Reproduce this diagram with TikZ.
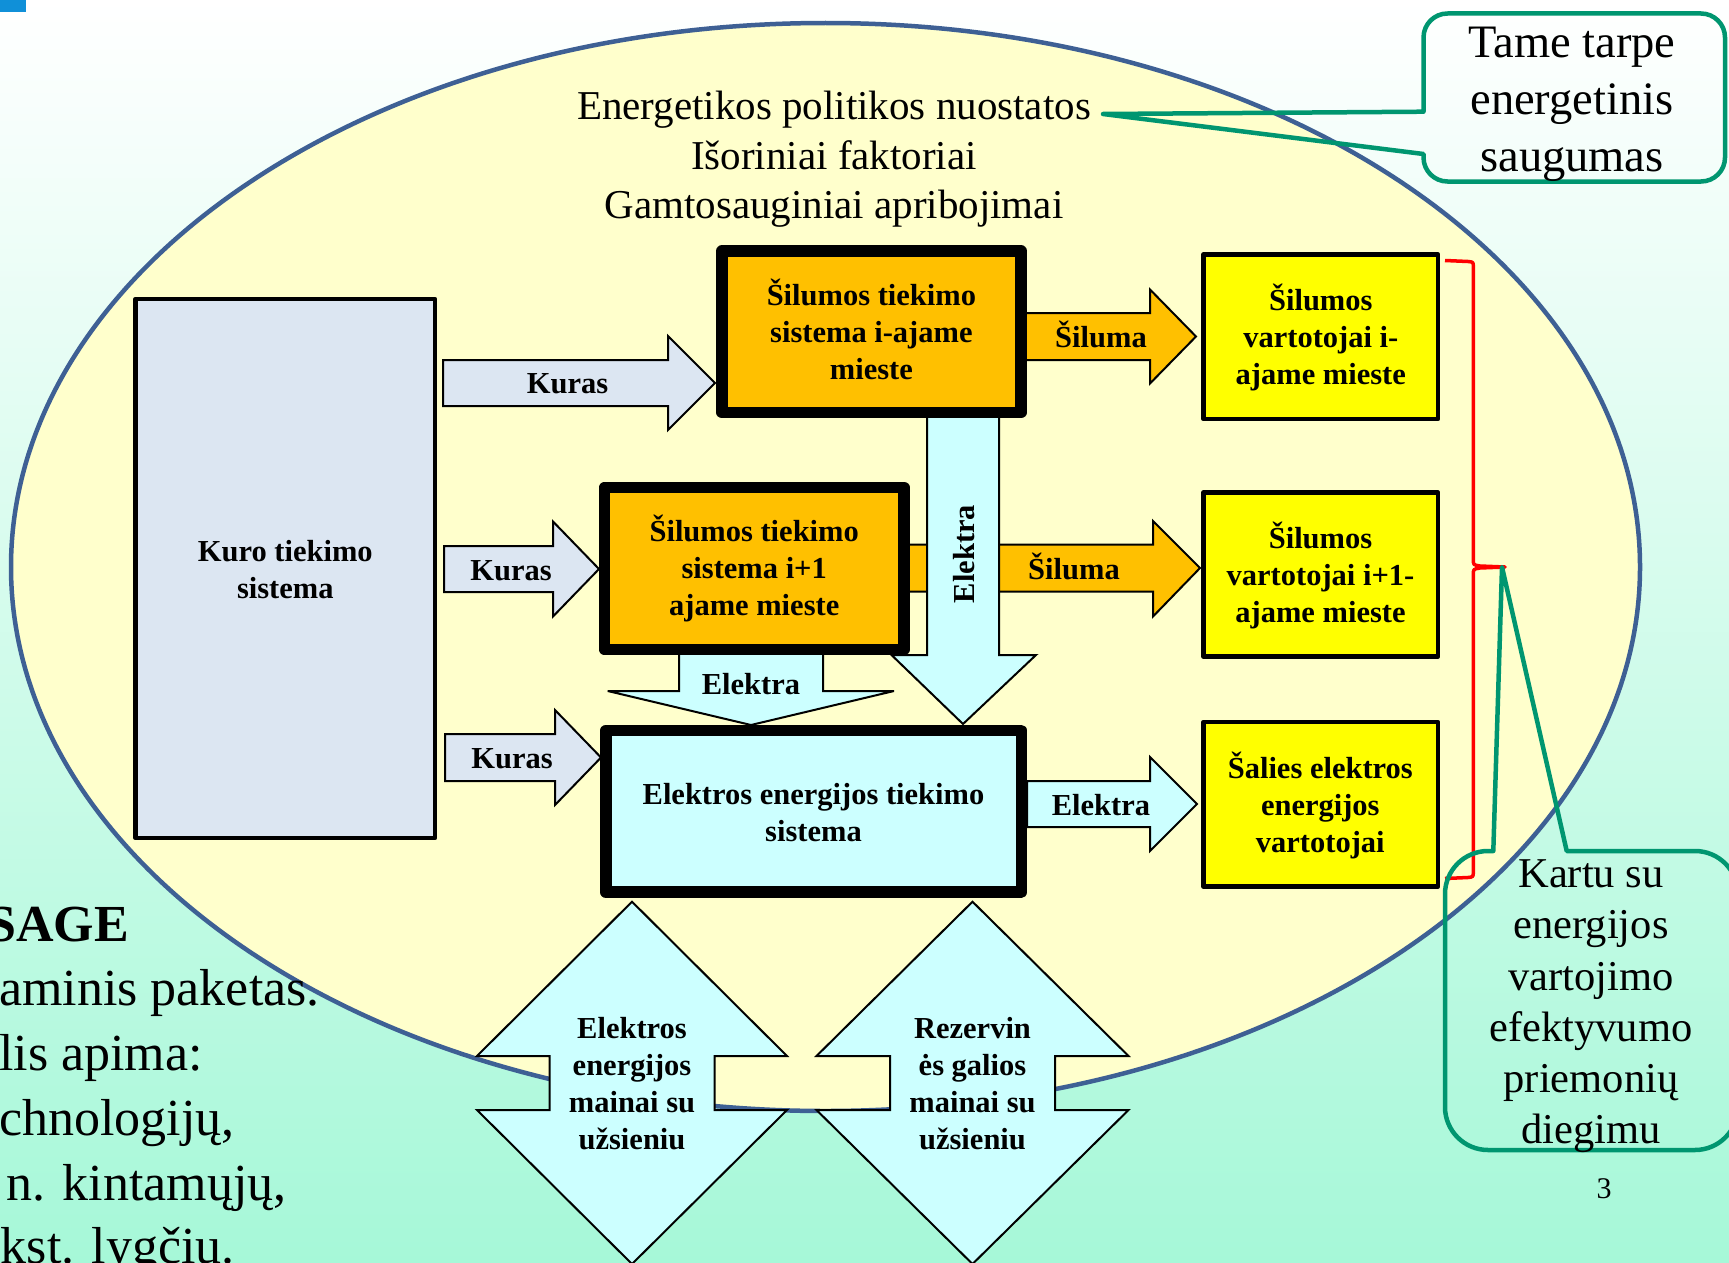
\documentclass[tikz,border=0pt]{standalone}
\usepackage{fontspec}
\setmainfont{Liberation Serif}
\definecolor{kurofill}{RGB}{220,230,242}
\definecolor{heatfill}{RGB}{255,192,0}
\definecolor{elfill}{RGB}{204,255,255}
\definecolor{consfill}{RGB}{255,255,0}
\definecolor{ellfill}{RGB}{255,255,204}
\definecolor{ellline}{RGB}{62,96,148}
\definecolor{callgreen}{RGB}{0,150,112}
\definecolor{mint}{RGB}{166,248,216}
\definecolor{markblue}{RGB}{16,144,216}
\newcommand\mlines[1]{\begin{tabular}[t]{@{}c@{}}#1\end{tabular}}
\begin{document}
\begin{tikzpicture}[x=1pt,y=-1pt,
  boxbase/.style={draw=black, line join=round, inner sep=0pt, outer sep=0pt},
  thickbox/.style={boxbase, line width=11.5pt},
  thinbox/.style={boxbase, line width=4.5pt},
  blockarrow/.style={draw=black, line width=2pt, line join=miter, miter limit=3},
  boldtext/.style={font=\fontsize{30.5pt}{37pt}\selectfont\bfseries, inner sep=0pt, anchor=base},
  lefttext/.style={font=\fontsize{52pt}{65pt}\selectfont, inner sep=0pt},
  calloutline/.style={draw=callgreen, line width=4.5pt, line join=round},
]
\useasboundingbox (0,0) rectangle (1729,1263);
\clip (0,0) rectangle (1729,1263);
\shade[top color=white, bottom color=mint] (0,0) rectangle (1729,1263);
\fill[markblue] (0,0) rectangle (26,12);
% ellipse
\draw[fill=ellfill, draw=ellline, line width=4.5pt] (825.5,567) ellipse [x radius=814.5pt, y radius=544pt];
% clipped slide text at left
\node[lefttext, anchor=base east] (sage) at (129,941) {\bfseries SAGE};
\node[lefttext, anchor=base west] (lineA) at (-1,1005) {aminis paketas.};
\node[lefttext, anchor=base west] (lineB) at (-1,1070) {lis apima:};
\node[lefttext, anchor=base west] (lineC) at (-1,1135) {chnologijų,};
\node[lefttext, anchor=base east] (lineD) at (287,1200) {n. kintamųjų,};
\node[lefttext, anchor=base east] (lineE) at (235,1263) {kst. lygčių.};
% policy text
\node[font=\fontsize{41pt}{49.8pt}\selectfont, inner sep=0pt, anchor=base] (policy) at (834,119.3)
  {\mlines{Energetikos politikos nuostatos\\Išoriniai faktoriai\\Gamtosauginiai apribojimai}};
\node[font=\fontsize{30pt}{36pt}\selectfont, inner sep=0pt, anchor=base] (pagenum) at (1604,1198) {3};
% fuel supply box
\node[thinbox, fill=kurofill, minimum width=299.5pt, minimum height=539pt] (kuro) at (285.25,568.5) {};
\node[boldtext] (kurotext) at (285.3,561.7) {\mlines{Kuro tiekimo\\sistema}};
% Kuras arrows
\draw[blockarrow, fill=kurofill] (443,360) -- (668,360) -- (668,336) -- (715,383) -- (668,430) -- (668,406) -- (443,406) -- cycle;
\node[boldtext] (kuras1) at (567.5,393.3) {Kuras};
\draw[blockarrow, fill=kurofill] (444,546) -- (553,546) -- (553,521.5) -- (599,569) -- (553,616.5) -- (553,592) -- (444,592) -- cycle;
\node[boldtext] (kuras2) at (511,580) {Kuras};
\draw[blockarrow, fill=kurofill] (445,734) -- (555,734) -- (555,710) -- (601,757.5) -- (555,805) -- (555,781) -- (445,781) -- cycle;
\node[boldtext] (kuras3) at (512,768.3) {Kuras};
% Siluma arrows
\draw[blockarrow, fill=heatfill] (1021,313) -- (1150,313) -- (1150,289.5) -- (1196,336.5) -- (1150,383.5) -- (1150,360) -- (1021,360) -- cycle;
\node[boldtext] (siluma1) at (1101,347.3) {Šiluma};
\draw[blockarrow, fill=heatfill] (904,544.5) -- (1153,544.5) -- (1153,521) -- (1200,568) -- (1153,616.5) -- (1153,591.5) -- (904,591.5) -- cycle;
\node[boldtext] (siluma2) at (1074,579.5) {Šiluma};
% vertical Elektra arrow
\draw[blockarrow, fill=elfill] (927,412) -- (927,655) -- (891.5,655) -- (963,724) -- (1036,655) -- (999,655) -- (999,412) -- cycle;
\node[boldtext, anchor=center, rotate=90] (elektraV) at (964,554) {Elektra};
% small Elektra arrow
\draw[blockarrow, fill=elfill] (679,650) -- (679,691) -- (607.7,691) -- (751,725) -- (894,691) -- (823,691) -- (823,650) -- cycle;
\node[boldtext] (elektraS) at (751,694) {Elektra};
% heat supply boxes
\node[thickbox, fill=heatfill, minimum width=299pt, minimum height=161.5pt] (heatA) at (871.5,331.75) {};
\node[boldtext] (heatAtext) at (871.4,305.5) {\mlines{Šilumos tiekimo\\sistema i-ajame\\mieste}};
\node[thickbox, fill=heatfill, minimum width=299.5pt, minimum height=162pt] (heatB) at (754.25,568.5) {};
\node[boldtext] (heatBtext) at (754.2,541.7) {\mlines{Šilumos tiekimo\\sistema i+1\\ajame mieste}};
% electricity supply box
\node[thickbox, fill=elfill, minimum width=415.5pt, minimum height=161.7pt] (elec) at (813.55,811.35) {};
\node[boldtext] (electext) at (813.5,804.3) {\mlines{Elektros energijos tiekimo\\sistema}};
\draw[blockarrow, fill=elfill] (1027,781) -- (1150,781) -- (1150,757) -- (1197,804) -- (1150,851) -- (1150,827) -- (1027,827) -- cycle;
\node[boldtext] (elektraR) at (1101,815) {Elektra};
% consumer boxes
\node[thinbox, fill=consfill, minimum width=234.5pt, minimum height=164.5pt] (consA) at (1320.75,336.75) {};
\node[boldtext] (consAtext) at (1320.8,310) {\mlines{Šilumos\\vartotojai i-\\ajame mieste}};
\node[thinbox, fill=consfill, minimum width=234.5pt, minimum height=164pt] (consB) at (1320.75,574.5) {};
\node[boldtext] (consBtext) at (1320.5,548.3) {\mlines{Šilumos\\vartotojai i+1-\\ajame mieste}};
\node[thinbox, fill=consfill, minimum width=234.5pt, minimum height=164.5pt] (consC) at (1320.75,804.25) {};
\node[boldtext] (consCtext) at (1320.3,778.3) {\mlines{Šalies elektros\\energijos\\vartotojai}};
% double arrows
\draw[blockarrow, fill=elfill] (632,901.7) -- (787,1056) -- (714.5,1056) -- (714.5,1110) -- (787,1110) -- (632,1264) -- (477,1110) -- (549.5,1110) -- (549.5,1056) -- (477,1056) -- cycle;
\node[boldtext] (exchA) at (632,1038.3) {\mlines{Elektros\\energijos\\mainai su\\užsieniu}};
\draw[blockarrow, fill=elfill] (972.5,901.7) -- (1128.5,1056) -- (1055,1056) -- (1055,1110) -- (1128.5,1110) -- (972.5,1264) -- (816.5,1110) -- (890,1110) -- (890,1056) -- (816.5,1056) -- cycle;
\node[boldtext] (exchB) at (972.5,1038.3) {\mlines{Rezervin\\ės galios\\mainai su\\užsieniu}};
% red brace
\draw[red, line width=3.5pt, line join=round] (1445,260.5) -- (1468,261.5) .. controls (1473.3,262) .. (1473.3,267) -- (1473.3,559) .. controls (1473.3,565) .. (1480,566) -- (1505,567) -- (1480,568) .. controls (1473.3,569) .. (1473.3,575) -- (1473.3,871) .. controls (1473.3,877) .. (1468,877.5) -- (1445,878.5);
% callout 1
\draw[calloutline] (1423.5,111.7) -- (1103,114) -- (1423.5,154) -- (1423.5,157.5) .. controls (1423.5,170.75) and (1434.25,181.5) .. (1447.5,181.5) -- (1701,181.5) .. controls (1714.25,181.5) and (1725,170.75) .. (1725,157.5) -- (1725,37.5) .. controls (1725,24.25) and (1714.25,13.5) .. (1701,13.5) -- (1447.5,13.5) .. controls (1434.25,13.5) and (1423.5,24.25) .. (1423.5,37.5) -- cycle;
\node[font=\fontsize{46.5pt}{57pt}\selectfont, inner sep=0pt, anchor=base] (calloutA) at (1572,57.5) {\mlines{Tame tarpe\\energetinis\\saugumas}};
% callout 2
\draw[calloutline] (1493.3,851) -- (1502,567) -- (1566.7,851) -- (1695,851) .. controls (1718.7,851) and (1738,870.3) .. (1738,894) -- (1738,1107) .. controls (1738,1130.7) and (1718.7,1150) .. (1695,1150) -- (1488,1150) .. controls (1464.3,1150) and (1445,1130.7) .. (1445,1107) -- (1445,894) .. controls (1445,870.3) and (1464.3,851) .. (1488,851) -- cycle;
\node[font=\fontsize{42.5pt}{51.2pt}\selectfont, inner sep=0pt, anchor=base] (calloutB) at (1591,887.7) {\mlines{Kartu su\\energijos\\vartojimo\\efektyvumo\\priemonių\\diegimu}};
\end{tikzpicture}
\end{document}
